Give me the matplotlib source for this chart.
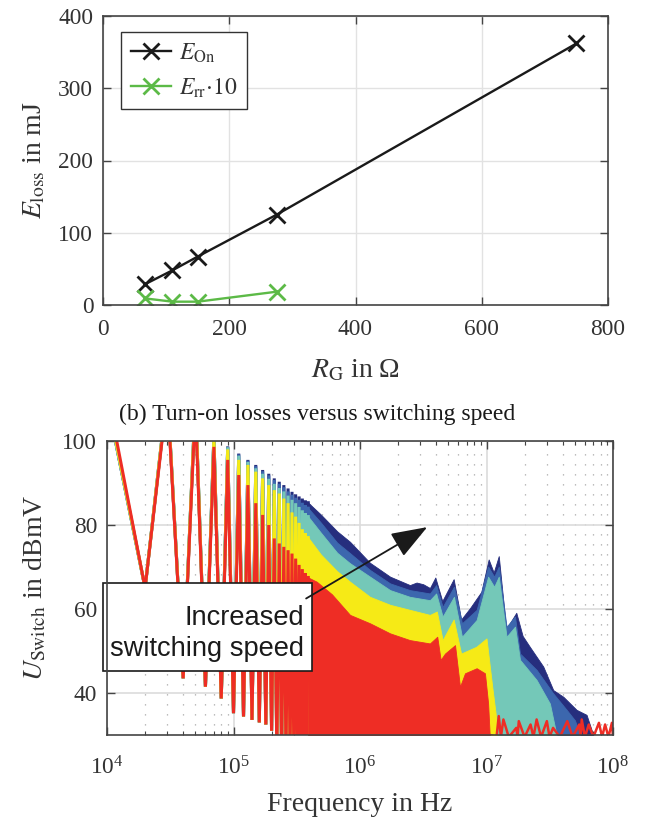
import numpy as np
import matplotlib
matplotlib.use("Agg")
import matplotlib.pyplot as plt
from matplotlib.patches import Rectangle
from matplotlib.ticker import LogLocator, NullFormatter, MultipleLocator

plt.rcParams['font.family'] = ['Liberation Serif', 'DejaVu Serif']
plt.rcParams['mathtext.fontset'] = 'stix'

# ---- (b) turn-on losses vs gate resistance ----
rg_on = [66, 110, 150, 275, 750]          # Ohm
e_on = [28.5, 48, 67, 125, 362]           # mJ
rg_rr = [66, 110, 150, 275]
e_rr10 = [9.2, 4.6, 4.6, 18.4]            # E_rr * 10 in mJ

# ---- spectra, five switching speeds (slowest last = red) ----
# low-frequency comb: 10 kHz harmonics, odd ones are peaks, even ones dips
comb_khz = [10, 20, 30, 40, 50, 60, 70, 80, 90, 100, 110, 120, 130, 140, 150,
            160, 170, 180, 190, 200, 210, 220, 230, 240, 250, 260, 270, 280,
            290, 300, 310, 320, 330, 340, 350, 360, 370, 380, 390]
dip_db = [65, 43.5, 41.5, 38.7, 35.2, 34.4, 33.6, 33.0, 32.5, 31.0,
          26, 25, 25, 25, 25, 25, 25, 25, 25]
navy_peak = [110, 112, 110, 101, 98.7, 97.0, 95.5, 94.3, 93.1, 92.2, 91.1, 90.3,
             89.5, 88.7, 87.9, 87.3, 86.8, 86.3, 85.8, 85.3]
blue_peak = [110, 112, 110, 101, 98.6, 96.8, 95.3, 94.0, 92.8, 91.8, 90.7, 89.8,
             89.0, 88.0, 87.2, 86.5, 86.0, 85.3, 84.7, 84.0]
teal_peak = [110, 112, 110, 101, 98.5, 96.5, 95.0, 93.5, 92.2, 91.0, 89.8, 88.8,
             88.0, 87.0, 86.0, 85.2, 84.3, 83.5, 82.8, 82.0]
yellow_peak = [110.5, 112, 110, 100.5, 98.0, 95.5, 94.3, 92.7, 91.1, 89.5, 88.3,
               87.5, 86.3, 85.2, 83.0, 82.0, 80.5, 79.0, 78.0, 77.0]
red_peak = [112, 111, 108, 98.6, 95.5, 91.9, 89.5, 85.2, 82.4, 80.0, 76.8, 75.6,
            74.8, 74.0, 73.2, 72.0, 70.5, 69.5, 68.5, 67.5]

# upper envelopes above 390 kHz (dense harmonics look solid)
navy_env_mhz = [0.39, 0.49, 0.66, 0.834, 1.2, 1.73, 2.48, 2.8, 3.16, 3.57, 3.94,
                4.47, 5.5, 6.3, 7.4, 9.1, 10.4, 11.4, 12.5, 14.3, 17.2, 19.3, 22,
                28.1, 33.7, 40.5, 51.5, 61.8, 69.8]
navy_env_db = [85.3, 82.5, 78.5, 76.0, 71.0, 67.7, 65.7, 66.3, 65.9, 65.0, 67.5,
               61.9, 67.1, 57.5, 60.2, 64.1, 71.8, 68.7, 72.6, 55.2, 59.1, 53.6,
               51.0, 46.3, 40.7, 39.1, 36.0, 34.8, 30.0]
blue_env_mhz = [0.39, 0.49, 0.66, 0.834, 1.2, 1.73, 2.48, 3.57, 4.0, 4.5, 5.53,
                6.4, 8.36, 10.3, 11.5, 12.5, 14.4, 16.8, 18.4, 24.9, 33.7, 43,
                50, 55]
blue_env_db = [84.0, 80.6, 75.8, 73.3, 69.3, 66.1, 64.5, 63.7, 65.7, 60.5, 65.3,
               56.6, 59.8, 70.1, 67.7, 70.1, 55.8, 58.2, 49.4, 45.5, 39.9, 36.0,
               33.5, 30.0]
teal_env_mhz = [0.39, 0.49, 0.66, 0.834, 1.2, 1.73, 2.48, 3.57, 4.0, 4.5, 5.53,
                6.4, 8.36, 10.3, 11.5, 12.5, 14.4, 16.8, 18.4, 24.9, 31.7, 35.8]
teal_env_db = [82.0, 78.2, 73.4, 70.9, 67.7, 64.5, 62.9, 62.1, 63.7, 58.2, 62.9,
               53.4, 57.4, 67.7, 65.3, 67.7, 53.4, 55.8, 47.9, 43.1, 37.5, 30.0]
yellow_env_mhz = [0.39, 0.49, 0.66, 0.834, 1.2, 1.73, 2.48, 3.57, 4.05, 4.5, 5.5,
                  6.3, 8.3, 10.0, 11.1, 11.8, 12.2]
yellow_env_db = [77.0, 73.0, 69.0, 66.5, 62.9, 61.0, 59.8, 58.6, 59.4, 52.6, 57.5,
                 49.4, 51.0, 53.0, 41.5, 35.2, 30.0]
red_env_mhz = [0.39, 0.455, 0.6, 0.834, 1.2, 1.73, 2.48, 3.57, 4.08, 4.34, 4.7,
               5.64, 6.17, 6.76, 8.36, 9.72, 10.3, 10.6]
red_env_db = [67.5, 66.5, 63.5, 58.6, 56.6, 54.2, 52.6, 51.8, 53.4, 47.9, 49.4,
              51.4, 41.5, 44.7, 45.9, 44.7, 37.5, 30.0]

# noise floor spikes of the slowest switching
red_noise_mhz = [10.6, 12.0, 12.5, 13.0, 13.6, 15.0, 17.2, 17.6, 18.0, 20.0, 22.3,
                 23.5, 24.9, 27.0, 30.0, 31.5, 33.6, 38.0, 43.5, 48.0, 54.1, 55.5,
                 56.6, 60.0, 64.3, 70.0, 77.4, 82.0, 86.6, 92.0, 98.0, 100.0]
red_noise_db = [30.0, 29.5, 34.5, 29.5, 33.7, 29.5, 31.7, 29.5, 33.3, 29.5, 32.5,
                29.5, 33.7, 29.5, 33.3, 29.5, 31.7, 29.5, 33.3, 29.5, 32.5, 29.5,
                33.7, 29.5, 32.5, 29.5, 32.9, 29.5, 32.5, 29.5, 32.9, 29.5]

series = [
    ('#262e7e', navy_peak, navy_env_mhz, navy_env_db),
    ('#3c67ae', blue_peak, blue_env_mhz, blue_env_db),
    ('#74c8b8', teal_peak, teal_env_mhz, teal_env_db),
    ('#f6ea16', yellow_peak, yellow_env_mhz, yellow_env_db),
    ('#ee2d25', red_peak, red_env_mhz, red_env_db),
]

txt = '#333333'
spine = '#444444'

fig = plt.figure(figsize=(6.45, 8.19), dpi=100)

# ---------- top axes ----------
ax1 = fig.add_axes([103 / 645, 1 - 305 / 819, 505 / 645, 289 / 819])
ax1.plot(rg_on, e_on, '-x', color='#1a1a1a', lw=1.7, ms=11, mew=2,
         label=r'$E_{\mathrm{On}}$')
ax1.plot(rg_rr, e_rr10, '-x', color='#5cba47', lw=1.7, ms=11, mew=2,
         label=r'$E_{\mathrm{rr}}{\cdot}10$')
ax1.set_xlim(0, 800)
ax1.set_ylim(0, 400)
ax1.xaxis.set_major_locator(MultipleLocator(200))
ax1.yaxis.set_major_locator(MultipleLocator(100))
ax1.grid(True, color='#e2e2e2', lw=1)
ax1.set_axisbelow(True)
leg = ax1.legend(loc='upper left', bbox_to_anchor=(0.036, 0.945), borderaxespad=0,
                 fontsize=17, fancybox=False, framealpha=1, edgecolor='#333333',
                 handlelength=1.7, handletextpad=0.35, labelspacing=0.5,
                 borderpad=0.4)
leg.get_frame().set_linewidth(1.0)
for t in leg.get_texts():
    t.set_color(txt)

# ---------- bottom axes ----------
ax2 = fig.add_axes([107 / 645, 1 - 735 / 819, 506 / 645, 294 / 819])
ax2.set_xscale('log')

comb_hz = np.array(comb_khz) * 1e3
for i, (col, peak, env_f, env_db) in enumerate(series):
    y = np.empty(len(comb_khz))
    y[0::2] = peak
    y[1::2] = dip_db
    ax2.plot(comb_hz, y, color=col, lw=2.2, zorder=3 + i, solid_joinstyle='miter')
    ax2.fill_between(np.array(env_f) * 1e6, env_db, 20, color=col, lw=0.6,
                     edgecolor=col, zorder=3 + i)
ax2.plot(np.array(red_noise_mhz) * 1e6, red_noise_db, color='#ee2d25', lw=1.8,
         zorder=8)

ax2.set_xlim(1e4, 1e8)
ax2.set_ylim(30, 100)
ax2.set_yticks([40, 60, 80, 100])
ax2.xaxis.set_major_locator(LogLocator(base=10, numticks=10))
ax2.xaxis.set_minor_locator(LogLocator(base=10, subs=np.arange(2, 10), numticks=20))
ax2.xaxis.set_minor_formatter(NullFormatter())
ax2.grid(True, which='major', color='#dcdcdc', lw=1.2)
ax2.grid(True, which='minor', axis='x', color='#a8a8a8', lw=0.9, ls=(0, (1, 7)))
ax2.set_axisbelow(True)

# annotation box and arrow
ax2.add_patch(Rectangle((-0.008, 0.218), 0.413, 0.299, transform=ax2.transAxes,
                        facecolor='white', edgecolor='#1a1a1a', lw=1.2,
                        clip_on=False, zorder=20))
ax2.text(0.389, 0.345, 'Increased\nswitching speed', transform=ax2.transAxes,
         ha='right', va='center', multialignment='right', fontsize=19.6,
         family='Liberation Sans', color='#1a1a1a', linespacing=1.25, zorder=21)
ax2.annotate('', xy=(3.4e6, 79.5), xytext=(3.75e5, 62.5),
             arrowprops=dict(arrowstyle='-|>,head_length=1.5,head_width=0.55',
                             color='#1a1a1a', lw=1.3, mutation_scale=15,
                             shrinkA=0, shrinkB=0),
             zorder=22)

for ax in (ax1, ax2):
    ax.tick_params(which='both', direction='in', top=True, right=True,
                   color=spine, labelcolor=txt, labelsize=16.8, pad=7)
    ax.tick_params(which='major', length=6, width=1)
    ax.tick_params(which='minor', length=3, width=0.8)
    for s in ax.spines.values():
        s.set_color(spine)
        s.set_linewidth(1.2)
        s.set_zorder(30)
ax1.tick_params(axis='x', which='both', pad=10)
ax2.tick_params(axis='x', which='both', pad=15)

ax1.set_xlabel(r'$R_{\mathrm{G}}$ in Ω', fontsize=20, color=txt, labelpad=13)
ax1.set_ylabel(r'$E_{\mathrm{loss}}$ in mJ', fontsize=20, color=txt, labelpad=8)
ax2.set_xlabel('Frequency in Hz', fontsize=20, color=txt, labelpad=9)
ax2.set_ylabel(r'$U_{\mathrm{Switch}}$ in dBmV', fontsize=20, color=txt, labelpad=10)

fig.text(0.491, 0.4945, '(b) Turn-on losses versus switching speed',
         ha='center', va='center', fontsize=17, color='#1a1a1a')

fig.savefig('out.png', dpi=100)
